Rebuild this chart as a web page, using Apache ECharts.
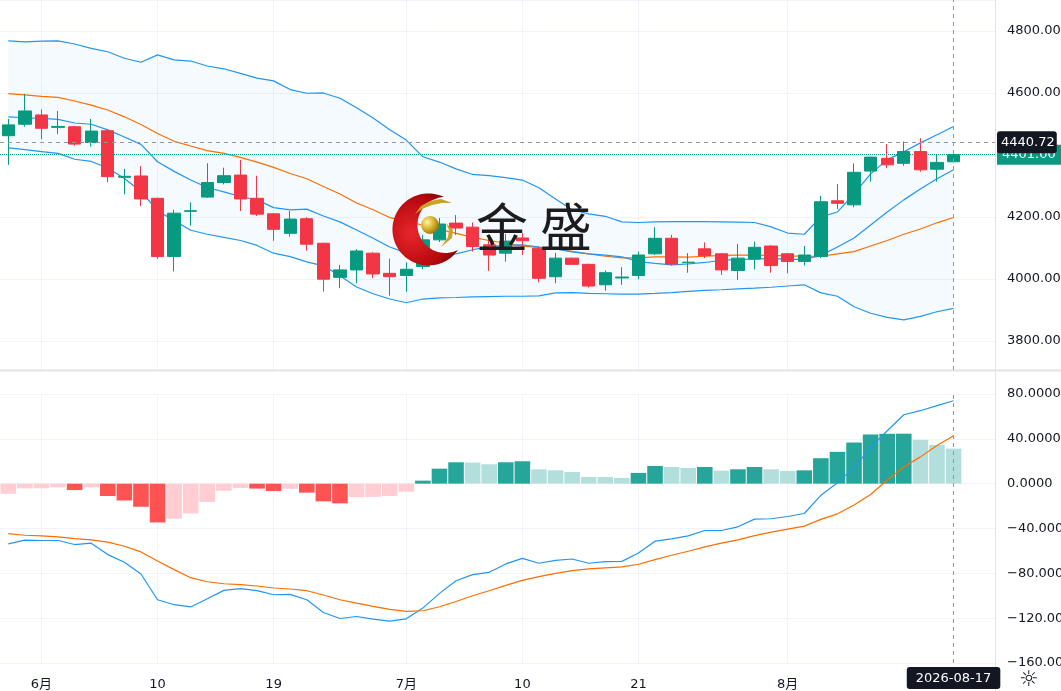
<!doctype html>
<html>
<head>
<meta charset="utf-8">
<title>金盛 K线</title>
<style>
  html, body { margin: 0; padding: 0; background: #fff; }
  #main { width: 1061px; height: 691px; }
</style>
</head>
<body>
<div id="main"></div>
<script src="https://cdn.jsdelivr.net/npm/echarts@6/dist/echarts.min.js"></script>
<script>
// 交易日
var dates = [
  '2026-05-28', '2026-05-29',
  '2026-06-01', '2026-06-02', '2026-06-03', '2026-06-04', '2026-06-05',
  '2026-06-08', '2026-06-09', '2026-06-10', '2026-06-11', '2026-06-12',
  '2026-06-15', '2026-06-16', '2026-06-17', '2026-06-18', '2026-06-19',
  '2026-06-22', '2026-06-23', '2026-06-24', '2026-06-25', '2026-06-26',
  '2026-06-29', '2026-06-30',
  '2026-07-01', '2026-07-02', '2026-07-03',
  '2026-07-06', '2026-07-07', '2026-07-08', '2026-07-09', '2026-07-10',
  '2026-07-13', '2026-07-14', '2026-07-15', '2026-07-16', '2026-07-17',
  '2026-07-20', '2026-07-21', '2026-07-22', '2026-07-23', '2026-07-24',
  '2026-07-27', '2026-07-28', '2026-07-29', '2026-07-30', '2026-07-31',
  '2026-08-03', '2026-08-04', '2026-08-05', '2026-08-06', '2026-08-07',
  '2026-08-10', '2026-08-11', '2026-08-12', '2026-08-13', '2026-08-14',
  '2026-08-17'
];
// 右侧留白的两个空位
var padDates = ['2026-08-18', '2026-08-19'];

// 时间轴刻度
var xTickLabels = {
  '2026-06-01': '6月',
  '2026-06-10': '10',
  '2026-06-19': '19',
  '2026-07-01': '7月',
  '2026-07-10': '10',
  '2026-07-21': '21',
  '2026-08-03': '8月'
};

// [开, 收, 低, 高]
var candles = [
  [4462, 4497, 4368, 4516], [4499, 4542, 4491, 4597], [4529, 4486, 4451, 4547],
  [4489, 4492, 4467, 4542], [4491, 4435, 4430, 4494], [4440, 4477, 4427, 4516],
  [4478, 4330, 4312, 4483], [4328, 4331, 4273, 4355], [4332, 4258, 4235, 4364],
  [4260, 4072, 4065, 4262], [4072, 4212, 4024, 4223], [4218, 4220, 4172, 4247],
  [4264, 4311, 4262, 4373], [4311, 4333, 4305, 4359], [4335, 4258, 4219, 4384],
  [4260, 4209, 4203, 4333], [4210, 4160, 4123, 4212], [4147, 4193, 4136, 4219],
  [4194, 4112, 4091, 4199], [4115, 3999, 3959, 4117], [4005, 4029, 3970, 4045],
  [4029, 4090, 3986, 4096], [4083, 4016, 4002, 4086], [4018, 4007, 3946, 4065],
  [4011, 4031, 3959, 4053], [4040, 4126, 4031, 4142], [4126, 4177, 4119, 4197],
  [4180, 4164, 4142, 4206], [4167, 4104, 4088, 4182], [4110, 4077, 4026, 4142],
  [4083, 4122, 4056, 4145], [4132, 4123, 4077, 4148], [4099, 4002, 3989, 4104],
  [4007, 4067, 3986, 4084], [4067, 4047, 4045, 4069], [4047, 3977, 3972, 4049],
  [3981, 4020, 3962, 4027], [4003, 4006, 3981, 4038], [4011, 4077, 3999, 4088],
  [4081, 4131, 4077, 4167], [4131, 4048, 4043, 4142], [4052, 4054, 4020, 4083],
  [4097, 4075, 4067, 4118], [4081, 4029, 4013, 4083], [4027, 4067, 3997, 4113],
  [4064, 4102, 4031, 4120], [4106, 4043, 4020, 4109], [4081, 4056, 4018, 4083],
  [4056, 4077, 4043, 4106], [4072, 4249, 4067, 4268], [4252, 4244, 4225, 4306],
  [4239, 4344, 4231, 4373], [4348, 4393, 4314, 4394], [4389, 4368, 4357, 4435],
  [4373, 4411, 4365, 4443], [4411, 4352, 4346, 4454], [4354, 4376, 4314, 4400],
  [4378, 4401, 4376, 4404]
];

// 布林带
var bollUpper = [
  4768, 4765, 4767, 4768, 4758, 4744, 4733, 4712, 4699, 4723,
  4707, 4703, 4687, 4678, 4663, 4648, 4639, 4611, 4599, 4600,
  4583, 4552, 4519, 4481, 4448, 4394, 4377, 4355, 4337, 4333,
  4327, 4319, 4294, 4258, 4223, 4210, 4202, 4184, 4182, 4184,
  4185, 4185, 4185, 4184, 4183, 4182, 4168, 4148, 4144, 4200,
  4216, 4274, 4339, 4385, 4410, 4439, 4465, 4492
];
var bollMid = [
  4598, 4594, 4589, 4586, 4574, 4561, 4545, 4523, 4498, 4469,
  4444, 4429, 4414, 4405, 4392, 4377, 4360, 4340, 4323, 4298,
  4274, 4245, 4223, 4198, 4187, 4173, 4160, 4147, 4134, 4124,
  4115, 4106, 4102, 4097, 4089, 4081, 4073, 4068, 4068, 4071,
  4071, 4070, 4073, 4076, 4077, 4077, 4076, 4074, 4073, 4073,
  4081, 4088, 4106, 4124, 4144, 4161, 4181, 4198
];
var bollLower = [
  4423, 4417, 4411, 4405, 4386, 4379, 4358, 4324, 4282, 4220,
  4188, 4157, 4144, 4134, 4124, 4108, 4083, 4072, 4055, 4042,
  4010, 3974, 3952, 3935, 3923, 3935, 3939, 3940, 3942, 3943,
  3944, 3944, 3945, 3955, 3956, 3953, 3952, 3951, 3951, 3953,
  3956, 3960, 3963, 3965, 3968, 3970, 3973, 3977, 3981, 3955,
  3944, 3910, 3889, 3876, 3868, 3879, 3894, 3905
];
// 均线
var maLine = [
  4523, 4520, 4518, 4515, 4503, 4499, 4481, 4458, 4434, 4378,
  4347, 4319, 4295, 4281, 4266, 4255, 4230, 4223, 4225, 4203,
  4184, 4158, 4131, 4103, 4084, 4071, 4074, 4081, 4094, 4105,
  4108, 4110, 4103, 4097, 4087, 4081, 4077, 4071, 4056, 4050,
  4045, 4048, 4053, 4060, 4063, 4064, 4066, 4063, 4063, 4076,
  4103, 4132, 4174, 4216, 4255, 4290, 4323, 4352
];

// MACD
var macdDif = [
  -53.7, -50.4, -50.7, -50.7, -54.3, -53.1, -63.3, -70.1, -80.6, -103.6,
  -108, -110, -102.7, -95.2, -93.7, -95.5, -99.1, -98.8, -103.6, -114.9,
  -120.3, -118.5, -120.9, -122.7, -120.6, -111, -97.9, -86.6, -81.2, -79.1,
  -71.6, -66.6, -71, -68.4, -67.2, -71, -69.6, -69.3, -61.8, -51.3,
  -49.3, -46.6, -41.8, -41.8, -38.5, -31.6, -31.3, -29.3, -26.6, -10.4,
  0.9, 14.3, 32.2, 47.2, 61.5, 65.1, 69.6, 74
];
var macdDea = [
  -44.5, -46, -46.6, -47.5, -49, -50.1, -52.2, -55.8, -60.9, -69,
  -76.7, -83.9, -87.5, -89.3, -90.1, -91.3, -93.1, -94, -95.5, -99.3,
  -103.6, -106.6, -109.5, -112.2, -114, -113.4, -109.8, -105.1, -100, -95.5,
  -90.7, -86.3, -83, -80, -77.6, -76.1, -75.2, -74.3, -71.9, -67.8,
  -63.9, -60.3, -56.4, -53.1, -50.1, -46.3, -43.3, -40.6, -37.9, -31.9,
  -26.9, -19.1, -9.6, 3.3, 14.9, 23.9, 34, 42.7
];
var macdHist = [
  -9, -4.2, -4.1, -3.3, -5.7, -3.3, -11, -15, -20.6, -34.6,
  -31.3, -26.6, -16.4, -6.3, -3.8, -4.4, -6.6, -4.5, -8, -15.8,
  -17.6, -12, -11.8, -11, -7.2, 2.7, 13.4, 19.1, 18.8, 17.3,
  19.1, 20, 12.8, 11.9, 10.4, 6, 5.9, 5.1, 9.6, 15.8,
  14.9, 14, 14.9, 11.6, 12.8, 14.9, 12.8, 11.3, 11.9, 22.7,
  28.4, 36.7, 43.9, 44.5, 44.6, 39.1, 34.6, 31.3
];

// 十字光标位置
var crossPrice = 4440.72;
var crossDate = '2026-08-17';

var font = '"DejaVu Sans", "Noto Sans CJK SC", sans-serif';
var textColor = '#131722';
var gridColor = '#f0f3fa';
var upColor = '#089981';
var downColor = '#f23645';
var blue = '#2196f3';
var orange = '#ff6d00';

var cats = dates.concat(padDates);
var lastClose = candles[candles.length - 1][1];

// 布林带填充用 (上轨 - 下轨), 叠在下轨上
var bandWidth = bollUpper.map(function (u, i) { return u - bollLower[i]; });

// 柱子颜色: 与前一根比较
var histData = macdHist.map(function (v, i) {
  var prev = i > 0 ? macdHist[i - 1] : v;
  var c;
  if (v >= 0) c = v > prev ? '#26a69a' : '#b2dfdb';
  else c = v < prev ? '#ff5252' : '#ffcdd2';
  return { value: v, itemStyle: { color: c } };
});

var vLines = Object.keys(xTickLabels).map(function (d) { return { xAxis: d }; });
var gridMarkLine = {
  silent: true,
  z: 1,
  symbol: ['none', 'none'],
  label: { show: false },
  lineStyle: { color: gridColor, type: 'solid', width: 1 },
  data: vLines
};

var pointerLine = { color: '#9598a1', type: [4, 4], width: 1 };

// 标志的月牙形: 两段圆弧 (圆心在弦的左侧, 走左边的长弧)
function arcThrough(p1, p2, r, steps) {
  var mx = (p1[0] + p2[0]) / 2, my = (p1[1] + p2[1]) / 2;
  var dx = p2[0] - p1[0], dy = p2[1] - p1[1];
  var len = Math.sqrt(dx * dx + dy * dy), half = len / 2;
  var off = Math.sqrt(Math.max(r * r - half * half, 0));
  var nx = -dy / len, ny = dx / len;
  var cx = mx + nx * off, cy = my + ny * off;
  var a1 = Math.atan2(p1[1] - cy, p1[0] - cx);
  var a2 = Math.atan2(p2[1] - cy, p2[0] - cx);
  if (a2 > a1) a2 -= Math.PI * 2;
  var pts = [];
  for (var k = 0; k <= steps; k++) {
    var a = a1 + (a2 - a1) * k / steps;
    pts.push([cx + r * Math.cos(a), cy + r * Math.sin(a)]);
  }
  return pts;
}
var tipA = [444, 197], tipB = [458, 250];
var outerArc = arcThrough(tipA, tipB, 36, 72);
var innerArc = arcThrough(tipA, tipB, 28, 72).reverse();
var crescent = outerArc.concat(innerArc);

var myChart = echarts.init(document.getElementById('main'));

var option = {
  animation: false,
  backgroundColor: '#ffffff',
  textStyle: { fontFamily: font },
  axisPointer: { triggerOn: 'none' },
  grid: [
    { left: 0, right: 66, top: 0, height: 370, outerBoundsMode: 'none' },
    { left: 0, right: 66, top: 394, height: 269, outerBoundsMode: 'none' }
  ],
  xAxis: [{
    type: 'category',
    gridIndex: 0,
    data: cats,
    boundaryGap: true,
    axisLine: { show: false },
    axisTick: { show: false },
    axisLabel: { show: false },
    splitLine: { show: false },
    axisPointer: {
      show: true,
      status: 'show',
      value: crossDate,
      type: 'line',
      triggerTooltip: false,
      lineStyle: pointerLine,
      label: { show: false }
    }
  }, {
    type: 'category',
    gridIndex: 1,
    data: cats,
    boundaryGap: true,
    axisLine: { show: false },
    axisTick: { show: false },
    splitLine: { show: false },
    axisLabel: {
      color: textColor,
      fontSize: 13,
      fontFamily: font,
      margin: 15,
      interval: function (index, value) { return xTickLabels.hasOwnProperty(value); },
      formatter: function (value) { return xTickLabels[value] || ''; }
    },
    axisPointer: {
      show: true,
      status: 'show',
      value: crossDate,
      type: 'line',
      triggerTooltip: false,
      lineStyle: pointerLine,
      label: {
        show: true,
        backgroundColor: '#131722',
        color: '#ffffff',
        fontSize: 13,
        fontFamily: font,
        padding: [5, 9, 4, 9],
        margin: 4
      }
    }
  }],
  yAxis: [{
    type: 'value',
    gridIndex: 0,
    position: 'right',
    min: 3706,
    max: 4900,
    axisLine: { show: false },
    axisTick: { show: false },
    splitLine: { lineStyle: { color: gridColor } },
    axisLabel: {
      color: textColor,
      fontSize: 13,
      fontFamily: font,
      margin: 12,
      showMinLabel: false,
      showMaxLabel: false,
      formatter: function (v) { return v.toFixed(2); }
    },
    axisPointer: {
      show: true,
      status: 'show',
      value: crossPrice,
      type: 'line',
      triggerTooltip: false,
      lineStyle: pointerLine,
      label: {
        show: true,
        formatter: function (p) { return Number(p.value).toFixed(2); },
        backgroundColor: '#131722',
        color: '#ffffff',
        fontSize: 13,
        fontFamily: font,
        padding: [5, 2, 4, 4],
        margin: 2
      }
    }
  }, {
    type: 'value',
    gridIndex: 1,
    position: 'right',
    min: -160,
    max: 80,
    interval: 40,
    axisLine: { show: false },
    axisTick: { show: false },
    splitLine: { lineStyle: { color: gridColor } },
    axisLabel: {
      color: textColor,
      fontSize: 13,
      fontFamily: font,
      margin: 12,
      showMinLabel: true,
      showMaxLabel: true,
      formatter: function (v) {
        return (v < 0 ? '\u2212' : '') + Math.abs(v).toFixed(4);
      }
    }
  }],
  series: [{
    name: '下轨',
    type: 'line',
    xAxisIndex: 0, yAxisIndex: 0,
    data: bollLower,
    stack: 'boll',
    symbol: 'none',
    z: 3,
    lineStyle: { color: blue, width: 1.2 }
  }, {
    name: '带宽',
    type: 'line',
    xAxisIndex: 0, yAxisIndex: 0,
    data: bandWidth,
    stack: 'boll',
    symbol: 'none',
    z: 1,
    lineStyle: { opacity: 0 },
    areaStyle: { color: 'rgba(33,150,243,0.06)' }
  }, {
    name: '上轨',
    type: 'line',
    xAxisIndex: 0, yAxisIndex: 0,
    data: bollUpper,
    symbol: 'none',
    z: 3,
    lineStyle: { color: blue, width: 1.2 }
  }, {
    name: '中轨',
    type: 'line',
    xAxisIndex: 0, yAxisIndex: 0,
    data: bollMid,
    symbol: 'none',
    z: 3,
    lineStyle: { color: orange, width: 1.2 }
  }, {
    name: 'MA',
    type: 'line',
    xAxisIndex: 0, yAxisIndex: 0,
    data: maLine,
    symbol: 'none',
    z: 3,
    lineStyle: { color: blue, width: 1.2 },
    markLine: gridMarkLine
  }, {
    name: 'K线',
    type: 'candlestick',
    xAxisIndex: 0, yAxisIndex: 0,
    data: candles,
    barWidth: '77%',
    z: 5,
    itemStyle: {
      color: upColor,
      color0: downColor,
      borderColor: upColor,
      borderColor0: downColor,
      borderWidth: 1
    },
    markLine: {
      silent: true,
      symbol: ['none', 'none'],
      data: [{
        yAxis: lastClose,
        lineStyle: { color: upColor, type: 'dotted', width: 1 },
        label: {
          show: true,
          position: 'end',
          distance: 2,
          formatter: lastClose.toFixed(2),
          backgroundColor: upColor,
          color: '#ffffff',
          fontSize: 13,
          fontFamily: font,
          padding: [4, 10, 3, 5]
        }
      }]
    }
  }, {
    name: 'MACD',
    type: 'bar',
    xAxisIndex: 1, yAxisIndex: 1,
    data: histData,
    barWidth: '94%',
    z: 2,
    markLine: gridMarkLine
  }, {
    name: 'DIF',
    type: 'line',
    xAxisIndex: 1, yAxisIndex: 1,
    data: macdDif,
    symbol: 'none',
    z: 3,
    lineStyle: { color: blue, width: 1.2 }
  }, {
    name: 'DEA',
    type: 'line',
    xAxisIndex: 1, yAxisIndex: 1,
    data: macdDea,
    symbol: 'none',
    z: 3,
    lineStyle: { color: orange, width: 1.2 }
  }],
  graphic: [
    // 分隔线与右侧价格轴线
    { type: 'line', silent: true, z: 20,
      shape: { x1: 0, y1: 370.5, x2: 1061, y2: 370.5 },
      style: { stroke: '#e0e3eb', lineWidth: 2 } },
    { type: 'line', silent: true, z: 20,
      shape: { x1: 995.5, y1: 0, x2: 995.5, y2: 691 },
      style: { stroke: '#e0e3eb', lineWidth: 1 } },
    // 金盛 标志
    { type: 'polygon', silent: true, z: 100,
      shape: { points: crescent },
      style: {
        fill: {
          type: 'radial', x: 0.3, y: 0.55, r: 0.8,
          colorStops: [
            { offset: 0, color: '#e8262a' },
            { offset: 0.7, color: '#b5080d' },
            { offset: 1, color: '#6e0003' }
          ]
        }
      } },
    { type: 'polygon', silent: true, z: 101,
      shape: { points: [[415, 214], [421, 206], [430, 201], [441, 199], [452, 203], [442, 203], [432, 205], [422, 209]] },
      style: { fill: '#c9a227' } },
    { type: 'polygon', silent: true, z: 101,
      shape: { points: [[446, 223], [453, 230], [452, 238], [441, 247], [448, 237], [449, 230]] },
      style: { fill: '#c9a227' } },
    { type: 'circle', silent: true, z: 101,
      shape: { cx: 430, cy: 225, r: 9 },
      style: {
        fill: {
          type: 'radial', x: 0.35, y: 0.35, r: 0.75,
          colorStops: [
            { offset: 0, color: '#fff4a8' },
            { offset: 0.5, color: '#d8b02a' },
            { offset: 1, color: '#8a6810' }
          ]
        }
      } },
    { type: 'text', silent: true, z: 101,
      left: 476, top: 201,
      style: {
        text: '金 盛',
        font: '52px "Noto Sans CJK SC"',
        fill: '#1c1c1c'
      } },
    // 右下角设置图标
    { type: 'text', silent: true, z: 20,
      left: 1019, top: 669,
      style: { text: '\u263C', font: '22px "DejaVu Sans"', fill: '#131722' } }
  ]
};

myChart.setOption(option);
</script>
</body>
</html>
